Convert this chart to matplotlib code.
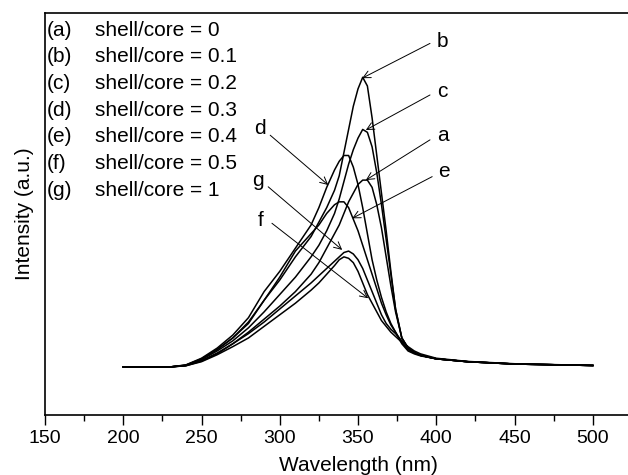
import numpy as np
import matplotlib
matplotlib.use('Agg')
import matplotlib.pyplot as plt

plt.rcParams['font.family'] = ['Liberation Sans', 'DejaVu Sans']

# wavelength grid (nm)
wl = [200, 230, 240, 250, 260, 270, 280, 290, 300, 310, 320, 325, 330, 335, 338, 341, 344,
      347, 350, 353, 356, 359, 362, 365, 368, 371, 374, 378, 382, 386, 390, 400, 420, 450, 500]

# intensity (a.u.), baseline = 0, peak of (b) = 1
a = [0, 0, 0.004, 0.02, 0.045, 0.08, 0.12, 0.165, 0.21, 0.26, 0.32, 0.36, 0.41, 0.46, 0.49, 0.53, 0.57,
     0.60, 0.63, 0.645, 0.645, 0.62, 0.56, 0.48, 0.38, 0.28, 0.19, 0.10, 0.065, 0.05, 0.04, 0.028, 0.018, 0.01, 0.005]
b = [0, 0, 0.006, 0.028, 0.06, 0.10, 0.155, 0.23, 0.30, 0.38, 0.45, 0.50, 0.55, 0.61, 0.66, 0.74, 0.82,
     0.90, 0.96, 1.0, 0.97, 0.86, 0.73, 0.60, 0.47, 0.33, 0.20, 0.10, 0.065, 0.05, 0.04, 0.028, 0.018, 0.01, 0.005]
c = [0, 0, 0.005, 0.025, 0.055, 0.09, 0.135, 0.19, 0.25, 0.31, 0.38, 0.42, 0.47, 0.53, 0.58, 0.64, 0.70,
     0.75, 0.79, 0.82, 0.81, 0.76, 0.67, 0.56, 0.44, 0.32, 0.20, 0.10, 0.065, 0.05, 0.04, 0.028, 0.018, 0.01, 0.005]
d = [0, 0, 0.007, 0.03, 0.065, 0.11, 0.17, 0.26, 0.33, 0.41, 0.49, 0.55, 0.62, 0.68, 0.71, 0.73, 0.73,
     0.69, 0.63, 0.55, 0.46, 0.37, 0.30, 0.24, 0.19, 0.15, 0.12, 0.08, 0.055, 0.045, 0.038, 0.028, 0.018, 0.01, 0.005]
e = [0, 0, 0.006, 0.027, 0.06, 0.10, 0.15, 0.23, 0.31, 0.40, 0.46, 0.49, 0.53, 0.56, 0.57, 0.57, 0.55,
     0.51, 0.47, 0.42, 0.37, 0.32, 0.27, 0.22, 0.18, 0.145, 0.12, 0.085, 0.06, 0.048, 0.04, 0.028, 0.018, 0.01, 0.005]
f = [0, 0, 0.004, 0.018, 0.042, 0.07, 0.10, 0.14, 0.18, 0.22, 0.265, 0.29, 0.32, 0.35, 0.37, 0.38, 0.375,
     0.36, 0.33, 0.29, 0.25, 0.22, 0.19, 0.16, 0.14, 0.12, 0.105, 0.085, 0.06, 0.048, 0.04, 0.028, 0.018, 0.01, 0.005]
g = [0, 0, 0.005, 0.022, 0.048, 0.08, 0.115, 0.155, 0.20, 0.245, 0.29, 0.315, 0.34, 0.365, 0.38, 0.395, 0.40,
     0.39, 0.37, 0.34, 0.30, 0.26, 0.22, 0.18, 0.15, 0.13, 0.115, 0.09, 0.07, 0.055, 0.045, 0.03, 0.019, 0.011, 0.005]

series = [a, b, c, d, e, f, g]
letters = ['a', 'b', 'c', 'd', 'e', 'f', 'g']
ratios = ['0', '0.1', '0.2', '0.3', '0.4', '0.5', '1']

# curve label: (text pos, arrow start, arrow tip)
callouts = {
    'b': ((404, 1.123), (396, 1.117), (352.7, 0.997)),
    'c': ((404, 0.950), (396, 0.939), (355, 0.818)),
    'a': ((404, 0.800), (396, 0.784), (355, 0.645)),
    'e': ((405, 0.674), (397.4, 0.657), (346.3, 0.513)),
    'd': ((287.5, 0.824), (293.9, 0.800), (331, 0.628)),
    'g': ((286.2, 0.645), (292.6, 0.622), (339.9, 0.404)),
    'f': ((287.5, 0.507), (295, 0.496), (356.5, 0.237)),
}

W, H = 628, 475
fig = plt.figure(figsize=(W / 100, H / 100), dpi=100)
ax = fig.add_axes([45 / W, (H - 415) / H, (671 - 45) / W, (415 - 13) / H])

for ys in series:
    ax.plot(wl, ys, color='black', lw=1.1)

for k, (txt, start, tip) in callouts.items():
    ax.text(txt[0], txt[1], k, fontsize=15, ha='center', va='center')
    ax.annotate('', xy=tip, xytext=start,
                arrowprops=dict(arrowstyle='->', lw=0.7, color='black',
                                shrinkA=0, shrinkB=0, mutation_scale=13))

for i, (l, r) in enumerate(zip(letters, ratios)):
    yy = 1 - (30 + i * 26.7) / H
    fig.text(47 / W, yy, f'({l})', fontsize=15, va='center')
    fig.text(95 / W, yy, f'shell/core = {r}', fontsize=15, va='center')

ax.set_xlim(150, 550)
ax.set_ylim(-0.166, 1.222)
ax.set_xticks(np.arange(150, 501, 50))
ax.set_xticks(np.arange(175, 551, 50), minor=True)
ax.set_yticks([])
ax.tick_params(axis='x', which='major', length=7, width=1, labelsize=14, pad=4)
ax.tick_params(axis='x', which='minor', length=4, width=1)
ax.set_xlabel('Wavelength (nm)', fontsize=15, labelpad=6)
ax.set_ylabel('Intensity (a.u.)', fontsize=15, labelpad=8)
for s in ax.spines.values():
    s.set_linewidth(1.2)

fig.savefig('out.png', dpi=100)
